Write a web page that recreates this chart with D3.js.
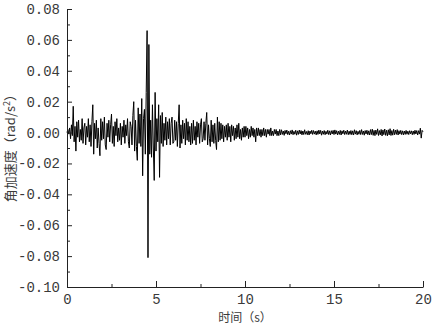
<!DOCTYPE html>
<html>
<head>
<meta charset="utf-8">
<script src="https://cdn.jsdelivr.net/npm/d3@7"></script>
<style>
  html, body { margin: 0; padding: 0; background: #fff; }
</style>
</head>
<body>
<svg id="chart" width="432" height="326"></svg>
<script>
// ========= Data (angular acceleration, 10^-3 rad/s^2, sampled every 0.05 s) ========= //
const sampleStep = 0.05;
const accel = [
  // 0 - 1 s
  0, 2, -1, 3, -4, 5, -2, 17, -6, 4, -12, 7, -3, 8, -6, 2, -5, 9, -7, 3,
  // 1 - 2 s
  6, -8, 4, -3, 9, -6, 5, -9, 7, 18, -14, 6, -4, 8, -10, 3, -7, -15, 9, -5,
  // 2 - 3 s
  7, -4, 10, -8, -11, 6, -3, 8, -6, 5, 12, -7, 4, -9, 7, -2, 9, -6, 3, -5,
  // 3 - 4 s
  6, -8, 4, -3, 8, -7, 5, -2, 9, -6, -10, 7, 4, -8, 11, 20, -12, 8, -9, -18,
  // 4 - 5 s
  16, -7, 12, -9, 22, -28, 9, 15, -14, 26, 66, -81, 57, -14, 8, -16, 18, -10, -31, 26,
  // 5 - 6 s
  -12, 9, -6, 18, -29, 11, -7, 13, -9, 6, -5, 10, -8, 7, -4, 9, -8, 6, 10, -7,
  // 6 - 7 s
  -6, 8, -5, 7, -9, 6, 18, -10, 5, -7, 8, -4, 6, -8, 9, -5, 7, -6, 4, -8,
  // 7 - 8 s
  6, -7, 8, -5, 4, -8, 7, -3, 6, -7, 5, 9, -6, -4, 7, -5, 6, 13, -8, 5,
  // 8 - 9 s
  -4, -9, 8, -6, 5, -7, 6, -5, -11, 10, -6, 7, -5, 6, -4, 5, -6, 4, -3, 5,
  // 9 - 10 s
  -5, 6, -3, 4, -6, 5, -2, 4, -5, 3, -4, 5, -3, 6, -4, 2, -5, 3, -3, 4,
  // 10 - 11 s
  -3, 4, -2, 3, -4, 2, -3, 4, -2, 3, -3, 2, -6, 3, -2, 3, -2, 2, -3, 2,
  // 11 - 12 s
  -2, 3, -2, 2, -3, 2, -1, 2, -2, 3, -2, 1, -2, 2, -1, 2, -2, 1, -2, 2,
  // 12 - 13 s
  -1.5, 1.8, -1.2, 1.0, -1.8, 1.4, -0.8, 1.6, -1.3, 0.9, -1.6, 1.2, -1.0, 1.7, -1.4, 0.8, -1.1, 1.5, -1.7, 1.1,
  // 13 - 14 s
  -1.2, 1.6, -0.9, 1.3, -1.5, 1.0, -1.3, 1.8, -1.1, 0.7, -1.4, 1.2, -1.6, 1.0, -0.8, 1.5, -1.2, 1.3, -1.0, 0.9,
  // 14 - 15 s
  -1.5, 1.1, -1.2, 1.6, -0.9, 1.4, -1.7, 1.0, -1.1, 1.3, -1.4, 0.8, -1.0, 1.5, -1.3, 1.1, -1.6, 1.2, -0.9, 1.4,
  // 15 - 16 s
  -1.3, 1.7, -1.0, 1.2, -1.5, 0.9, -1.2, 1.4, -1.6, 1.1, -0.8, 1.5, -1.3, 1.0, -1.1, 1.6, -1.4, 0.9, -1.2, 1.3,
  // 16 - 17 s
  -1.4, 1.1, -1.6, 1.8, -1.0, 1.2, -1.5, 0.8, -1.1, 1.4, -1.3, 1.9, -1.2, 1.0, -1.7, 1.3, -0.9, 1.5, -1.4, 1.1,
  // 17 - 18 s
  -1.6, 1.9, -1.3, 2.2, -1.8, 1.4, -2.0, 1.6, -1.2, 2.4, -1.9, 1.3, -1.5, 2.0, -2.2, 1.7, -1.4, 2.3, -1.8, 1.5,
  // 18 - 19 s
  -2.1, 1.8, -1.5, 2.5, -1.9, 1.3, -1.7, 2.1, -1.4, 1.6, -1.2, 1.9, -1.6, 1.2, -1.0, 1.4, -1.3, 1.1, -1.5, 1.0,
  // 19 - 20 s
  -1.2, 1.4, -1.1, 0.9, -1.3, 1.2, -0.8, 1.1, -1.4, 1.0, -1.2, 1.5, -0.9, 1.3, -1.6, 1.2, -1.0, 2.8, -3.6, 1.4,
  0.5
];

const xTicks = [0, 5, 10, 15, 20];
const xMinorTicks = [2.5, 7.5, 12.5, 17.5];
const yTicks = [-100, -80, -60, -40, -20, 0, 20, 40, 60, 80];
const yMinorTicks = [-90, -70, -50, -30, -10, 10, 30, 50, 70];
const xTitle = '时间（s）';
const yTitle = '角加速度（rad/s';

// ========= Setup ========= //
const margin = { top: 9, right: 9, bottom: 39, left: 67 };
const width = 432, height = 326;

const svg = d3.select('#chart');

const x = d3.scaleLinear()
  .domain([0, 20])
  .range([margin.left, width - margin.right]);

const y = d3.scaleLinear()
  .domain([-100, 80])
  .range([height - margin.bottom, margin.top]);

const monoFont = '"Liberation Mono", "DejaVu Sans Mono", monospace';
const cjkFont = '"Noto Sans CJK SC", "Noto Sans", sans-serif';
const textColor = '#3a3a3a';

// ========= Signal ========= //
const line = d3.line()
  .x((d, i) => x(i * sampleStep))
  .y(d => y(d));

svg.append('path')
  .datum(accel)
  .attr('d', line)
  .attr('fill', 'none')
  .attr('stroke', '#000')
  .attr('stroke-width', 1)
  .attr('stroke-linejoin', 'miter');

// ========= Axes ========= //
const xAxis = svg.append('g')
  .attr('transform', `translate(0,${y(-100)})`)
  .call(d3.axisBottom(x).tickValues(xTicks).tickSizeInner(-6).tickSizeOuter(0).tickPadding(7));

svg.append('g')
  .attr('transform', `translate(0,${y(-100)})`)
  .call(d3.axisBottom(x).tickValues(xMinorTicks).tickSizeInner(-3).tickSizeOuter(0).tickFormat(''))
  .call(g => g.select('.domain').remove());

const yAxis = svg.append('g')
  .attr('transform', `translate(${x(0)},0)`)
  .call(d3.axisLeft(y).tickValues(yTicks).tickSizeInner(-5).tickSizeOuter(0).tickPadding(7)
    .tickFormat(d => (d < 0 ? '-' : '') + Math.abs(d / 1000).toFixed(2)));

svg.append('g')
  .attr('transform', `translate(${x(0)},0)`)
  .call(d3.axisLeft(y).tickValues(yMinorTicks).tickSizeInner(-3).tickSizeOuter(0).tickFormat(''))
  .call(g => g.select('.domain').remove());

svg.selectAll('.domain, .tick line')
  .attr('stroke', '#222')
  .attr('stroke-width', 1);

xAxis.selectAll('text')
  .attr('font-family', monoFont)
  .attr('font-size', '14px')
  .attr('fill', textColor);

yAxis.selectAll('text')
  .attr('font-family', monoFont)
  .attr('font-size', '14px')
  .attr('fill', textColor);

// ========= Titles ========= //
svg.append('text')
  .attr('x', x(10))
  .attr('y', 322)
  .attr('text-anchor', 'middle')
  .attr('font-family', cjkFont)
  .attr('font-size', '12px')
  .attr('fill', textColor)
  .text(xTitle);

const yLabel = svg.append('text')
  .attr('transform', 'translate(15,145) rotate(-90)')
  .attr('text-anchor', 'middle')
  .attr('font-family', cjkFont)
  .attr('font-size', '13px')
  .attr('fill', textColor);

yLabel.append('tspan').text(yTitle);
yLabel.append('tspan').attr('dy', -5).attr('font-size', '9px').text('2');
yLabel.append('tspan').attr('dy', 5).text('）');
</script>
</body>
</html>
